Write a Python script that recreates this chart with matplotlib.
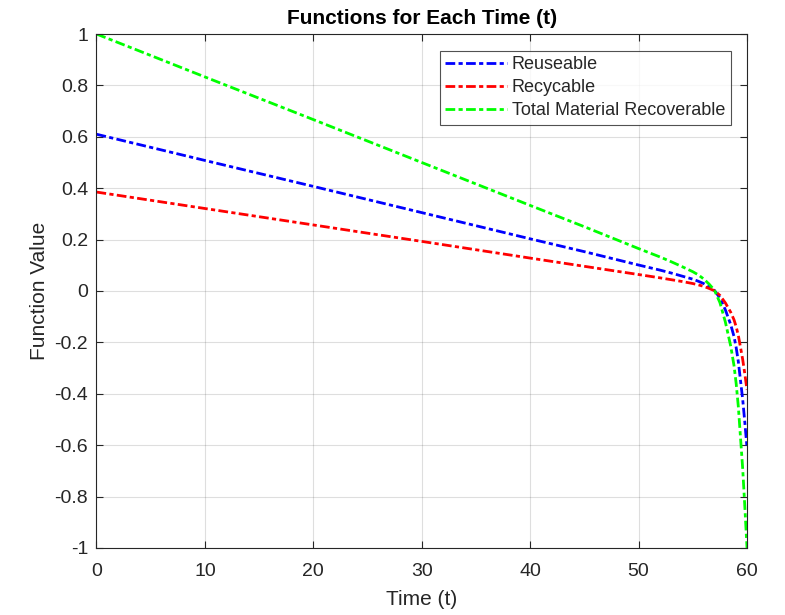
import matplotlib
matplotlib.use("Agg")
import matplotlib.pyplot as plt

t = [0, 10, 20, 30, 40, 45, 50, 52, 53, 54, 55, 55.5, 56, 56.5, 57, 57.5,
     58, 58.5, 58.8, 59, 59.2, 59.4, 59.6, 59.8, 60]

reuseable = [0.610, 0.508, 0.407, 0.305, 0.203, 0.153, 0.101, 0.081, 0.070,
             0.058, 0.046, 0.038, 0.029, 0.016, 0.002, -0.027, -0.073, -0.131,
             -0.177, -0.220, -0.275, -0.348, -0.421, -0.512, -0.610]

recycable = [0.385, 0.321, 0.257, 0.193, 0.128, 0.096, 0.064, 0.051, 0.044,
             0.037, 0.029, 0.024, 0.018, 0.010, 0.001, -0.017, -0.046, -0.083,
             -0.112, -0.139, -0.173, -0.219, -0.266, -0.323, -0.385]

total = [1.000, 0.833, 0.667, 0.500, 0.333, 0.250, 0.165, 0.132, 0.114,
         0.095, 0.075, 0.063, 0.047, 0.027, 0.003, -0.045, -0.120, -0.215,
         -0.290, -0.360, -0.450, -0.570, -0.690, -0.840, -1.000]

series_names = ["Reuseable", "Recycable", "Total Material Recoverable"]
x_ticks = [0, 10, 20, 30, 40, 50, 60]
y_ticks = [-1, -0.8, -0.6, -0.4, -0.2, 0, 0.2, 0.4, 0.6, 0.8, 1]
y_tick_labels = ["-1", "-0.8", "-0.6", "-0.4", "-0.2", "0", "0.2", "0.4", "0.6", "0.8", "1"]

plt.rcParams["font.family"] = ["Liberation Sans", "DejaVu Sans"]
plt.rcParams["axes.unicode_minus"] = False

dark = (0.15, 0.15, 0.15)
fig = plt.figure(figsize=(7.85, 6.15), dpi=100)
ax = fig.add_axes([0.1229, 0.109, 0.8287, 0.8357])

ls = (0, (3.5, 1.2, 1.5, 1.2))
ax.plot(t, reuseable, color=(0, 0, 1), lw=2, linestyle=ls, label=series_names[0])
ax.plot(t, recycable, color=(1, 0, 0), lw=2, linestyle=ls, label=series_names[1])
ax.plot(t, total, color=(0, 1, 0), lw=2, linestyle=ls, label=series_names[2])

ax.set_xlim(0, 60)
ax.set_ylim(-1, 1)
ax.set_xticks(x_ticks)
ax.set_yticks(y_ticks)
ax.set_yticklabels(y_tick_labels)
ax.grid(True, color=dark, alpha=0.15, lw=0.8)
ax.tick_params(direction="in", length=5, width=0.8, colors=dark, labelsize=14,
               top=True, right=True, labeltop=False, labelright=False)
ax.tick_params(axis="x", pad=11)
ax.tick_params(axis="y", pad=6)
for s in ax.spines.values():
    s.set_color(dark)
    s.set_linewidth(0.8)

ax.set_xlabel("Time (t)", fontsize=15, color=dark, labelpad=7)
ax.set_ylabel("Function Value", fontsize=15, color=dark)
ax.set_title("Functions for Each Time (t)", fontsize=15, fontweight="bold", color="black", pad=7)

leg = ax.legend(loc="upper right", bbox_to_anchor=(0.975, 0.967), fontsize=13,
                frameon=True, fancybox=False, edgecolor=dark, handlelength=3.4,
                handletextpad=0.3, borderpad=0.3, labelspacing=0.33, borderaxespad=0)
leg.get_frame().set_linewidth(0.8)
for tx in leg.get_texts():
    tx.set_color(dark)

fig.savefig("out.png", dpi=100)
